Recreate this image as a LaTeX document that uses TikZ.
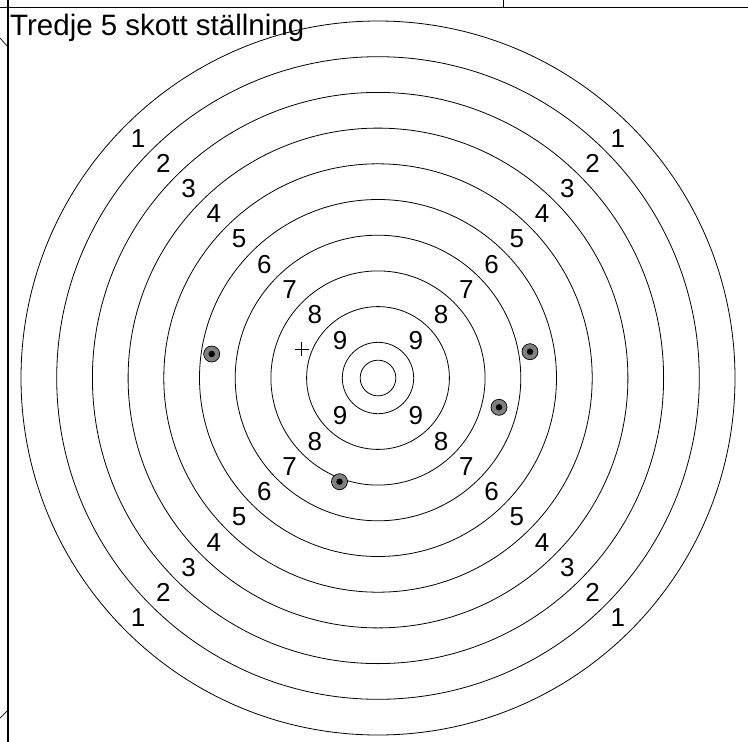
\documentclass[tikz,border=0pt]{standalone}
\usepackage{fontspec}
\setmainfont{Liberation Sans}
\usetikzlibrary{calc}
\begin{document}
\begin{tikzpicture}[x=1pt,y=1pt,
  ring/.style={draw=black,line width=0.8pt},
  frame/.style={draw=black,line width=1.3pt},
  thin/.style={draw=black,line width=0.7pt},
  score/.style={font=\fontsize{26}{26}\selectfont,inner sep=0pt},
  hole/.style={circle,draw=black,fill=black!50,line width=0.7pt,minimum size=16pt,inner sep=0pt},
  holedot/.style={circle,fill=black,minimum size=6.5pt,inner sep=0pt}]
\useasboundingbox (0,0) rectangle (748,-742);
\fill[white] (0,0) rectangle (748,-742);
% frame lines
\draw[frame] (0,-7.5) -- (748,-7.5);
\draw[frame] (8,0) -- (8,-742);
\draw[thin] (503,0) -- (503,-7.5);
\draw[thin] (0,-38) -- (8,-47);
\draw[thin] (0,-718) -- (8,-710);
% title
\node[anchor=base west,inner sep=0pt,font=\fontsize{29.5}{29.5}\selectfont] (title) at (10,-35.5) {Tredje 5 skott ställning};
% target
\coordinate (c) at (378,-378);
\foreach \k in {1,...,10} {
  \draw[ring] (c) circle ({357-(\k-1)*35.7});
}
\draw[ring] (c) circle (17.85);
% score labels
\foreach \k in {1,...,9} {
  \pgfmathsetmacro{\d}{(357-(\k-0.5)*35.7)/sqrt(2)}
  \node[score] (nw\k) at ($(c)+(-\d,\d)$) {\k};
  \node[score] (ne\k) at ($(c)+(\d,\d)$) {\k};
  \node[score] (sw\k) at ($(c)+(-\d,-\d)$) {\k};
  \node[score] (se\k) at ($(c)+(\d,-\d)$) {\k};
}
% shots
\foreach \n/\x/\y in {a/211.7/354, b/530/351.7, c/499/407.3, d/339.5/481.7} {
  \node[hole] (h\n) at (\x,-\y) {};
  \node[holedot] (d\n) at (h\n.center) {};
}
% aim mark
\coordinate (aim) at (301.7,-349.3);
\draw[thin] ($(aim)+(-7,0)$) -- ($(aim)+(7,0)$);
\draw[thin] ($(aim)+(0,-7)$) -- ($(aim)+(0,7)$);
\end{tikzpicture}
\end{document}
